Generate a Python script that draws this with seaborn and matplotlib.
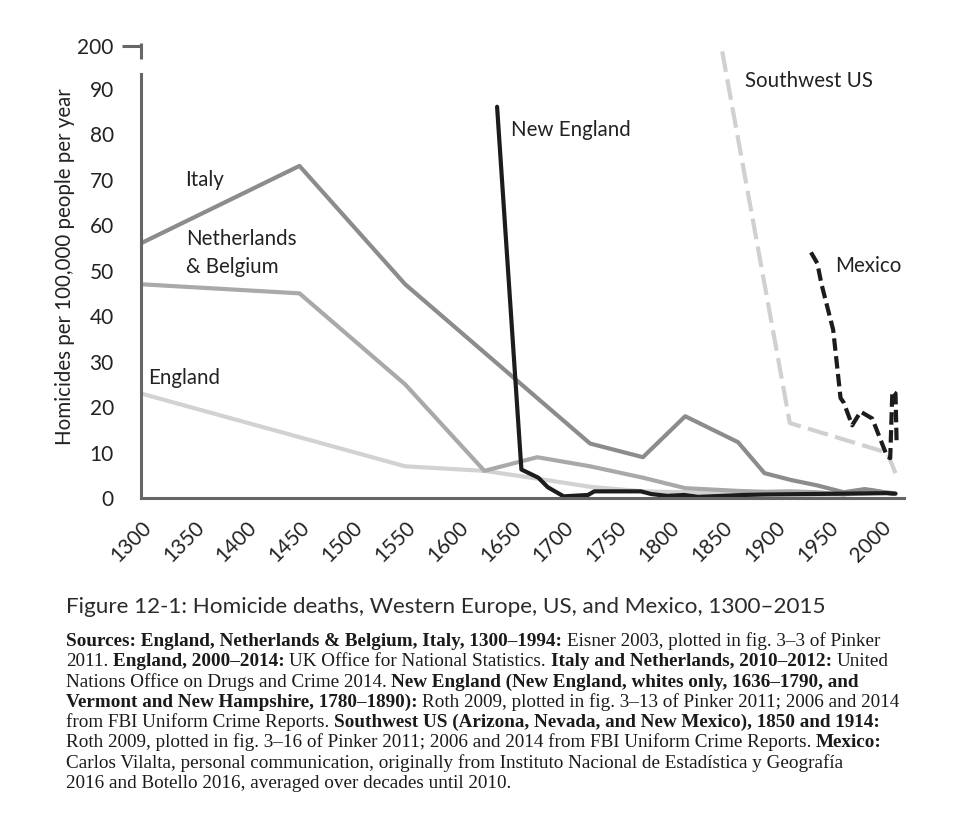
import matplotlib
matplotlib.use('Agg')
import matplotlib.pyplot as plt
import numpy as np
import seaborn as sns

# homicides per 100,000 people per year
italy_years = [1300, 1450, 1550, 1625, 1675, 1725, 1775, 1815, 1865, 1890, 1915, 1940, 1965, 1985, 2012]
italy_rate = [56, 73, 47, 32, 22, 12, 9, 18, 12.3, 5.5, 4, 2.8, 1.3, 2, 1]

nl_years = [1300, 1450, 1550, 1625, 1675, 1725, 1775, 1815, 1865, 1890, 1915, 1940, 1965, 1990, 2012]
nl_rate = [47, 45, 25, 6, 9, 7, 4.5, 2.2, 1.6, 1.4, 1.5, 1.3, 0.8, 1.8, 0.9]

england_years = [1300, 1550, 1625, 1675, 1725, 1775, 1815, 1865, 1890, 1915, 1940, 1965, 1990, 2007, 2014]
england_rate = [23, 7, 6, 4.3, 2.5, 1.5, 1.3, 1.3, 1, 0.8, 0.7, 0.8, 1.1, 1.3, 1]

ne_years = [1637, 1660, 1676, 1685, 1700, 1723, 1729, 1773, 1783, 1798, 1814, 1827, 1850, 1870, 1890, 2006, 2014]
ne_rate = [86, 6.3, 4.5, 2.4, 0.4, 0.7, 1.5, 1.5, 0.9, 0.5, 0.7, 0.3, 0.5, 0.7, 0.8, 1.1, 1.0]

sw_years = [1850, 1914, 2006, 2014]
sw_rate = [185, 16.5, 10, 5.5]

mexico_years = [1934, 1940, 1944, 1955, 1962, 1965, 1973, 1981, 1992, 2006, 2009, 2011, 2014, 2015]
mexico_rate = [54, 51.6, 47, 37, 22, 21, 16, 19, 17.5, 9.2, 8.8, 23.5, 23, 12.7]

x_ticks = list(range(1300, 2001, 50))
y_ticks = [0, 10, 20, 30, 40, 50, 60, 70, 80, 90, 200]

sns.set_style('white')
plt.rcParams['font.family'] = ['Lato', 'DejaVu Sans']

fig = plt.figure(figsize=(9.72, 8.14), dpi=100)
ax = fig.add_axes([0.145, 0.388, 0.785, 0.5565])

# broken axis: 0-90 linear, 90-200 squeezed into the top
k = 9.44 / 110


def fwd(v):
    v = np.asarray(v, dtype=float)
    return np.where(v <= 90, v, 90 + (v - 90) * k)


def inv(t):
    t = np.asarray(t, dtype=float)
    return np.where(t <= 90, t, 90 + (t - 90) / k)


ax.set_yscale('function', functions=(fwd, inv))

lw = 3
sns.lineplot(x=england_years, y=england_rate, ax=ax, color='#d2d2d2', lw=lw, estimator=None, sort=False)
sns.lineplot(x=nl_years, y=nl_rate, ax=ax, color='#a9a9a9', lw=lw, estimator=None, sort=False)
sns.lineplot(x=italy_years, y=italy_rate, ax=ax, color='#8c8c8c', lw=lw, estimator=None, sort=False)
sns.lineplot(x=sw_years, y=sw_rate, ax=ax, color='#d0d0d0', lw=lw, estimator=None, sort=False,
             linestyle=(0, (5, 1.8)))
sns.lineplot(x=ne_years, y=ne_rate, ax=ax, color='#1c1c1c', lw=lw, estimator=None, sort=False)
sns.lineplot(x=mexico_years, y=mexico_rate, ax=ax, color='#1c1c1c', lw=lw, estimator=None, sort=False,
             linestyle=(0, (3, 1.3)))

ax.set_xlim(1300, 2022)
ax.set_ylim(0, 201)
ax.set_xticks(x_ticks)
ax.set_xticklabels([str(t) for t in x_ticks], rotation=45, ha='right', rotation_mode='anchor')
ax.set_yticks(y_ticks)
ax.set_yticklabels([str(t) for t in y_ticks])
ax.minorticks_off()

axis_grey = '#666666'
ax.tick_params(axis='both', colors=axis_grey, width=2.2, labelcolor='#222222', labelsize=15)
ax.tick_params(axis='y', length=13.5, pad=6)
ax.tick_params(axis='x', length=10, pad=4)

for side in ['top', 'right']:
    ax.spines[side].set_visible(False)
for side in ['left', 'bottom']:
    ax.spines[side].set_color(axis_grey)
    ax.spines[side].set_linewidth(2.2)
ax.spines['left'].set_bounds(0, 128)
# upper stub of the broken y axis with its 200 tick
ax.plot([0, 0], [0.969, 1.004], transform=ax.transAxes, clip_on=False,
        color=axis_grey, lw=2.2, solid_capstyle='butt')
ax.plot([-0.0245, 0.0015], [200, 200], transform=ax.get_yaxis_transform(), clip_on=False,
        color=axis_grey, lw=2.2, solid_capstyle='butt')

ax.set_ylabel('Homicides per 100,000 people per year', fontsize=14.8, color='#222222', va='center')
ax.yaxis.set_label_coords(-0.0996, 0.512)

label_kw = dict(fontsize=14.8, color='#222222', va='center', ha='left')
ax.text(1342, 69.8, 'Italy', **label_kw)
ax.text(1343, 53.8, 'Netherlands\n& Belgium', linespacing=1.5, **label_kw)
ax.text(1307, 26.3, 'England', **label_kw)
ax.text(1650, 80.8, 'New England', **label_kw)
ax.text(1872, 110.5, 'Southwest US', **label_kw)
ax.text(1957, 50.9, 'Mexico', **label_kw)

fig.text(66 / 972, 1 - 607 / 814, 'Figure 12-1: Homicide deaths, Western Europe, US, and Mexico, 1300–2015',
         fontsize=16.2, color='#2b2b2b', va='center', ha='left')

# sources note, bold and regular runs chained one after another
source_lines = [
    [('Sources: England, Netherlands & Belgium, Italy, 1300–1994:', True),
     ('Eisner 2003, plotted in fig. 3–3 of Pinker', False)],
    [('2011.', False), ('England, 2000–2014:', True), ('UK Office for National Statistics.', False),
     ('Italy and Netherlands, 2010–2012:', True), ('United', False)],
    [('Nations Office on Drugs and Crime 2014.', False),
     ('New England (New England, whites only, 1636–1790, and', True)],
    [('Vermont and New Hampshire, 1780–1890):', True),
     ('Roth 2009, plotted in fig. 3–13 of Pinker 2011; 2006 and 2014', False)],
    [('from FBI Uniform Crime Reports.', False),
     ('Southwest US (Arizona, Nevada, and New Mexico), 1850 and 1914:', True)],
    [('Roth 2009, plotted in fig. 3–16 of Pinker 2011; 2006 and 2014 from FBI Uniform Crime Reports.', False),
     ('Mexico:', True)],
    [('Carlos Vilalta, personal communication, originally from Instituto Nacional de Estadística y Geografía', False)],
    [('2016 and Botello 2016, averaged over decades until 2010.', False)],
]
src_font = dict(fontsize=13.8, color='#1a1a1a', family=['Liberation Serif', 'DejaVu Serif'])
y_px = 650
for line in source_lines:
    prev = None
    for txt, bold in line:
        weight = 'bold' if bold else 'normal'
        if prev is None:
            prev = fig.text(66 / 972, 1 - y_px / 814, txt, va='bottom', ha='left', fontweight=weight, **src_font)
        else:
            prev = ax.annotate(txt, xy=(1, 0), xycoords=prev, xytext=(3.4, 0), textcoords='offset points',
                               va='bottom', ha='left', fontweight=weight, annotation_clip=False, **src_font)
    y_px += 20.3

fig.savefig('out.png', dpi=100)
